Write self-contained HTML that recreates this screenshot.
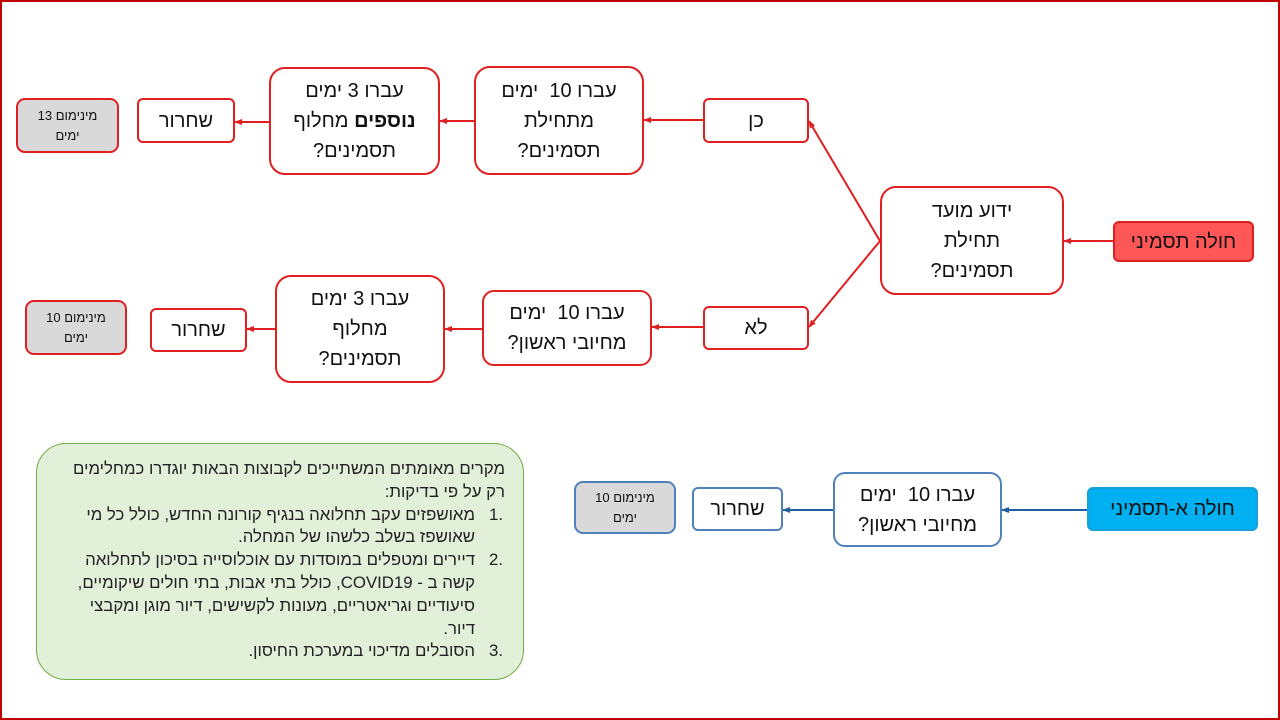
<!DOCTYPE html>
<html><head><meta charset="utf-8"><style>
*{margin:0;padding:0;box-sizing:border-box}
body{width:1280px;height:720px;background:#fff;position:relative;overflow:hidden;font-family:"Liberation Sans","Noto Sans CJK SC",sans-serif}
.frame{position:absolute;left:0;top:0;width:1280px;height:720px;border:2px solid #c00000}
.b{position:absolute;display:flex;align-items:center;justify-content:center;text-align:center;direction:rtl;border:2px solid #e02020;border-radius:12px;background:#fff;font-size:20px;line-height:30px;color:#111}
.b>div{width:100%}
.g{background:#d9d9d9;font-size:13px;line-height:20px;border-radius:9px}
.bl{border-color:#4f81bd}
svg{position:absolute;left:0;top:0}
.note{position:absolute;left:36px;top:443px;width:488px;height:237px;background:#e2efd9;border:1px solid #70ad47;border-radius:30px;direction:rtl;font-size:16.8px;line-height:22.8px;color:#222;padding:14px 18px 0 8px;white-space:nowrap}
.row{display:flex}
.num{width:30px;flex:none;padding-right:2px}
.txt{flex:1}
</style></head><body>
<div class="frame"></div>
<svg width="1280" height="720">
<defs>
<marker id="r" markerWidth="8" markerHeight="8" refX="7" refY="4" orient="auto" markerUnits="userSpaceOnUse"><path d="M0,1 L8,4 L0,7z" fill="#e02020"/></marker>
<marker id="u" markerWidth="8" markerHeight="8" refX="7" refY="4" orient="auto" markerUnits="userSpaceOnUse"><path d="M0,1 L8,4 L0,7z" fill="#1f5f9f"/></marker>
</defs>
<g stroke="#e02020" stroke-width="2" fill="none" marker-end="url(#r)">
<line x1="1113" y1="241" x2="1064" y2="241"/>
<line x1="880" y1="241" x2="809" y2="121"/>
<line x1="880" y1="241" x2="809" y2="327"/>
<line x1="703" y1="120" x2="644" y2="120"/>
<line x1="474" y1="121" x2="440" y2="121"/>
<line x1="269" y1="122" x2="235" y2="122"/>
<line x1="703" y1="327" x2="652" y2="327"/>
<line x1="482" y1="329" x2="445" y2="329"/>
<line x1="275" y1="329" x2="247" y2="329"/>
</g>
<g stroke="#1f5f9f" stroke-width="2" fill="none" marker-end="url(#u)">
<line x1="1087" y1="510" x2="1002" y2="510"/>
<line x1="833" y1="510" x2="783" y2="510"/>
</g>
</svg>
<div class="b" style="left:1113px;top:221px;width:141px;height:41px;background:#ff5757;border-color:#e02020;border-radius:6px"><div>חולה תסמיני</div></div>
<div class="b" style="left:880px;top:186px;width:184px;height:109px;border-radius:16px"><div>ידוע מועד<br>תחילת<br>תסמינים?</div></div>
<div class="b" style="left:703px;top:98px;width:106px;height:45px;border-radius:6px"><div>כן</div></div>
<div class="b" style="left:703px;top:306px;width:106px;height:44px;border-radius:6px"><div>לא</div></div>
<div class="b" style="left:474px;top:66px;width:170px;height:109px;border-radius:16px"><div>עברו 10 &nbsp;ימים<br>מתחילת<br>תסמינים?</div></div>
<div class="b" style="left:269px;top:67px;width:171px;height:108px;border-radius:16px"><div>עברו 3 ימים<br><b>נוספים</b> מחלוף<br>תסמינים?</div></div>
<div class="b" style="left:137px;top:98px;width:98px;height:45px;border-radius:6px"><div>שחרור</div></div>
<div class="b g" style="left:16px;top:98px;width:103px;height:55px"><div>מינימום 13<br>ימים</div></div>
<div class="b" style="left:482px;top:290px;width:170px;height:76px;border-radius:12px"><div>עברו 10 &nbsp;ימים<br>מחיובי ראשון?</div></div>
<div class="b" style="left:275px;top:275px;width:170px;height:108px;border-radius:16px"><div>עברו 3 ימים<br>מחלוף<br>תסמינים?</div></div>
<div class="b" style="left:150px;top:308px;width:97px;height:44px;border-radius:6px"><div>שחרור</div></div>
<div class="b g" style="left:25px;top:300px;width:102px;height:55px"><div>מינימום 10<br>ימים</div></div>
<div class="b bl" style="left:1087px;top:487px;width:171px;height:44px;background:#00b0f0;border-color:#1aa0d8;border-radius:6px"><div>חולה א-תסמיני</div></div>
<div class="b bl" style="left:833px;top:472px;width:169px;height:75px;border-radius:12px"><div>עברו 10 &nbsp;ימים<br>מחיובי ראשון?</div></div>
<div class="b bl" style="left:692px;top:487px;width:91px;height:44px;border-radius:6px"><div>שחרור</div></div>
<div class="b g bl" style="left:574px;top:481px;width:102px;height:53px"><div>מינימום 10<br>ימים</div></div>
<div class="note">
<div>מקרים מאומתים המשתייכים לקבוצות הבאות יוגדרו כמחלימים<br>רק על פי בדיקות:</div>
<div class="row"><span class="num">.1</span><span class="txt">מאושפזים עקב תחלואה בנגיף קורונה החדש, כולל כל מי<br>שאושפז בשלב כלשהו של המחלה.</span></div>
<div class="row"><span class="num">.2</span><span class="txt">דיירים ומטפלים במוסדות עם אוכלוסייה בסיכון לתחלואה<br>קשה ב - COVID19, כולל בתי אבות, בתי חולים שיקומיים,<br>סיעודיים וגריאטריים, מעונות לקשישים, דיור מוגן ומקבצי<br>דיור.</span></div>
<div class="row"><span class="num">.3</span><span class="txt">הסובלים מדיכוי במערכת החיסון.</span></div>
</div>
</body></html>
